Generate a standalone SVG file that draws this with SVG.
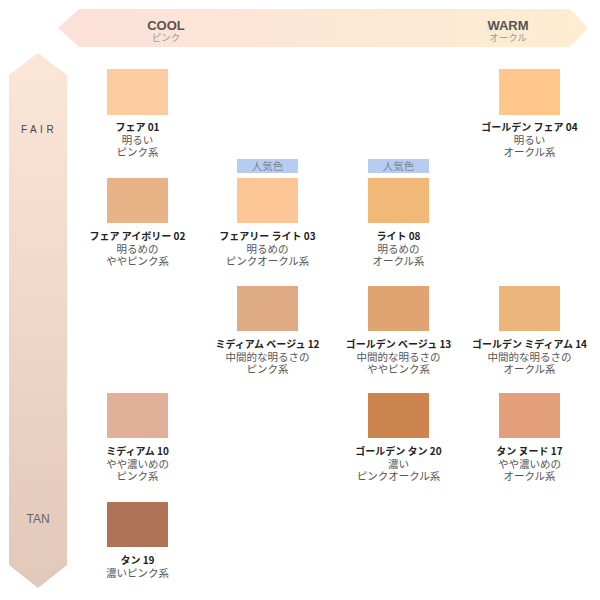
<svg xmlns="http://www.w3.org/2000/svg" width="600" height="600" viewBox="0 0 600 600">
<defs>
<linearGradient id="gH" x1="0" y1="0" x2="1" y2="0">
<stop offset="0" stop-color="#FBE1D8"/>
<stop offset="1" stop-color="#FEEDD2"/>
</linearGradient>
<linearGradient id="gV" x1="0" y1="0" x2="0" y2="1">
<stop offset="0" stop-color="#FCE6D8"/>
<stop offset="1" stop-color="#E1C8B8"/>
</linearGradient>
<style>
.t{font-family:"Noto Sans CJK JP","Noto Sans",sans-serif;font-size:10px;font-weight:bold;fill:#222;text-anchor:middle}
.d{font-family:"Noto Sans CJK JP","Noto Sans",sans-serif;font-size:10.5px;fill:#555;text-anchor:middle}
.ax{font-family:"Liberation Sans",Arial,sans-serif;font-weight:bold;font-size:13px;fill:#555;text-anchor:middle}
.axs{font-family:"Noto Sans CJK JP",sans-serif;font-size:9.5px;fill:#999;text-anchor:middle}
.badge{fill:#B5CDF1}
.bt{font-family:"Noto Sans CJK JP",sans-serif;font-size:10.5px;fill:#7F8796;text-anchor:middle}
</style>
</defs>
<rect width="600" height="600" fill="#fff"/>
<g id="axis-h">
<polygon points="58,28 79,9 570,9 588,28 570,47 79,47" fill="url(#gH)"/>
<text class="ax" x="166" y="30">COOL</text>
<text class="axs" x="166" y="41">ピンク</text>
<text class="ax" x="508" y="30">WARM</text>
<text class="axs" x="508" y="41">オークル</text>
</g>
<g id="axis-v">
<polygon points="38,53 67,75 67,565 38,588 9,565 9,75" fill="url(#gV)"/>
<text x="39" y="133" font-family="Liberation Sans, Arial, sans-serif" font-size="10" letter-spacing="3.5" fill="#444" text-anchor="middle">FAIR</text>
<text x="38" y="523" font-family="Liberation Sans, Arial, sans-serif" font-size="12" fill="#666" text-anchor="middle">TAN</text>
</g>
<g id="connectors"></g>
<g id="fair01">
<rect x="107" y="69" width="61" height="46" fill="#FDCBA0"/>
<text class="t" x="137.5" y="131">フェア 01</text>
<text class="d" x="137.5" y="143.5">明るい</text>
<text class="d" x="137.5" y="156">ピンク系</text>
</g>
<g id="goldenfair04">
<rect x="499" y="69" width="61" height="46" fill="#FFC78A"/>
<text class="t" x="529.5" y="131">ゴールデン フェア 04</text>
<text class="d" x="529.5" y="143.5">明るい</text>
<text class="d" x="529.5" y="156">オークル系</text>
</g>
<g id="fairivory02">
<rect x="107" y="178" width="61" height="45" fill="#E9B388"/>
<text class="t" x="137.5" y="240">フェア アイボリー 02</text>
<text class="d" x="137.5" y="252.5">明るめの</text>
<text class="d" x="137.5" y="265">ややピンク系</text>
</g>
<g id="fairylight03">
<rect class="badge" x="237" y="159" width="61" height="14"/>
<text class="bt" x="267.5" y="170">人気色</text>
<rect x="237" y="178" width="61" height="45" fill="#FCC696"/>
<text class="t" x="267.5" y="240">フェアリー ライト 03</text>
<text class="d" x="267.5" y="252.5">明るめの</text>
<text class="d" x="267.5" y="265">ピンクオークル系</text>
</g>
<g id="light08">
<rect class="badge" x="368" y="159" width="61" height="14"/>
<text class="bt" x="398.5" y="170">人気色</text>
<rect x="368" y="178" width="61" height="45" fill="#F0B978"/>
<text class="t" x="398.5" y="240">ライト 08</text>
<text class="d" x="398.5" y="252.5">明るめの</text>
<text class="d" x="398.5" y="265">オークル系</text>
</g>
<g id="mediumbeige12">
<rect x="237" y="286" width="61" height="45" fill="#DFAB85"/>
<text class="t" x="267.5" y="348">ミディアム ベージュ 12</text>
<text class="d" x="267.5" y="360.5">中間的な明るさの</text>
<text class="d" x="267.5" y="373">ピンク系</text>
</g>
<g id="goldenbeige13">
<rect x="368" y="286" width="61" height="45" fill="#E0A472"/>
<text class="t" x="398.5" y="348">ゴールデン ベージュ 13</text>
<text class="d" x="398.5" y="360.5">中間的な明るさの</text>
<text class="d" x="398.5" y="373">ややピンク系</text>
</g>
<g id="goldenmedium14">
<rect x="499" y="286" width="61" height="45" fill="#EBB57C"/>
<text class="t" x="529.5" y="348">ゴールデン ミディアム 14</text>
<text class="d" x="529.5" y="360.5">中間的な明るさの</text>
<text class="d" x="529.5" y="373">オークル系</text>
</g>
<g id="medium10">
<rect x="107" y="393" width="61" height="45" fill="#E2B098"/>
<text class="t" x="137.5" y="455">ミディアム 10</text>
<text class="d" x="137.5" y="467.5">やや濃いめの</text>
<text class="d" x="137.5" y="480">ピンク系</text>
</g>
<g id="goldentan20">
<rect x="368" y="393" width="61" height="45" fill="#CD8550"/>
<text class="t" x="398.5" y="455">ゴールデン タン 20</text>
<text class="d" x="398.5" y="467.5">濃い</text>
<text class="d" x="398.5" y="480">ピンクオークル系</text>
</g>
<g id="tannude17">
<rect x="499" y="393" width="61" height="45" fill="#E3A07A"/>
<text class="t" x="529.5" y="455">タン ヌード 17</text>
<text class="d" x="529.5" y="467.5">やや濃いめの</text>
<text class="d" x="529.5" y="480">オークル系</text>
</g>
<g id="tan19">
<rect x="107" y="502" width="61" height="45" fill="#AE7455"/>
<text class="t" x="137.5" y="564">タン 19</text>
<text class="d" x="137.5" y="576.5">濃いピンク系</text>
</g>
</svg>
